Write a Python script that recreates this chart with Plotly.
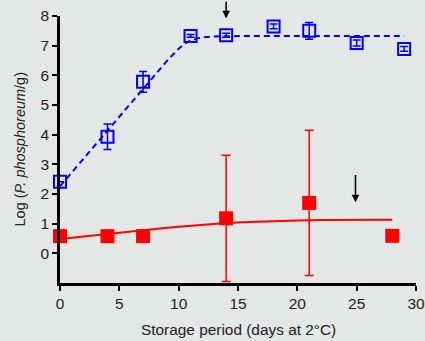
import plotly.graph_objects as go

# Observed data
blue_days = [0, 4, 7, 11, 14, 18, 21, 25, 29]
blue_vals = [2.41, 3.93, 5.78, 7.33, 7.35, 7.65, 7.5, 7.09, 6.89]
blue_err = [0.0, 0.43, 0.35, 0.05, 0.07, 0.08, 0.28, 0.1, 0.08]

red_days = [0, 4, 7, 14, 21, 28]
red_vals = [0.58, 0.58, 0.58, 1.18, 1.7, 0.59]
red_err = [0.0, 0.0, 0.0, 2.13, 2.45, 0.0]

# Fitted curves
blue_fit_days = [0, 1, 2, 3, 4, 5, 6, 7, 8, 9, 10, 10.5, 11, 11.5, 12, 12.5, 13, 14, 16, 18, 20, 22, 24, 26, 28, 29]
blue_fit_vals = [2.26, 2.73, 3.2, 3.67, 4.14, 4.61, 5.08, 5.55, 6.02, 6.48, 6.9, 7.07, 7.17, 7.24, 7.28, 7.3, 7.31, 7.32, 7.33, 7.33, 7.33, 7.33, 7.33, 7.33, 7.33, 7.33]

red_fit_days = [0, 2, 4, 6, 8, 10, 12, 14, 16, 18, 20, 22, 24, 26, 28]
red_fit_vals = [0.48, 0.57, 0.66, 0.74, 0.82, 0.9, 0.97, 1.02, 1.06, 1.09, 1.11, 1.12, 1.13, 1.13, 1.13]

# Arrows: (x, y_tail, y_tip)
arrows = [(14, 8.53, 7.92), (24.9, 2.69, 1.72)]

x_ticks = [0, 5, 10, 15, 20, 25, 30]
y_ticks = [0, 1, 2, 3, 4, 5, 6, 7, 8]

BG = "#E3E7E5"
BLUE = "#0000FF"
RED = "#FF0000"

fig = go.Figure()

fig.add_trace(go.Scatter(
    x=blue_fit_days, y=blue_fit_vals, mode="lines",
    line=dict(color=BLUE, width=2, dash="6px,4px"), cliponaxis=False,
    showlegend=False, hoverinfo="skip"))
fig.add_trace(go.Scatter(
    x=red_fit_days, y=red_fit_vals, mode="lines",
    line=dict(color=RED, width=2), cliponaxis=False,
    showlegend=False, hoverinfo="skip"))

fig.add_trace(go.Scatter(
    x=blue_days, y=blue_vals, mode="markers",
    marker=dict(symbol="square-open", size=12, color=BLUE, line=dict(width=2, color=BLUE)),
    error_y=dict(type="data", array=blue_err, visible=True, color=BLUE, thickness=1.5, width=4),
    cliponaxis=False, showlegend=False))
fig.add_trace(go.Scatter(
    x=red_days, y=red_vals, mode="markers",
    marker=dict(symbol="square", size=14, color=RED, line=dict(width=0)),
    error_y=dict(type="data", array=red_err, visible=True, color=RED, thickness=1.5, width=4.5),
    cliponaxis=False, showlegend=False))

for (ax_x, y_tail, y_tip) in arrows:
    fig.add_annotation(x=ax_x, y=y_tip, ax=ax_x, ay=y_tail, xref="x", yref="y",
                       axref="x", ayref="y", showarrow=True, arrowhead=2,
                       arrowsize=1, arrowwidth=1.5, arrowcolor="black", text="")

# Axis titles
fig.add_annotation(text="Storage period (days at 2°C)", xref="paper", yref="paper",
                   x=0.5, y=0, yshift=-46, yanchor="middle", showarrow=False,
                   font=dict(size=15.4, color="#222222"))
fig.add_annotation(text="Log (<i>P. phosphoreum</i>/g)", xref="paper", yref="paper",
                   x=0, xshift=-41, y=0.5, xanchor="center", yanchor="middle",
                   textangle=-90, showarrow=False,
                   font=dict(size=14.5, color="#222222"))

fig.update_layout(
    width=425, height=341,
    margin=dict(l=60, r=9, t=16, b=58),
    paper_bgcolor=BG, plot_bgcolor=BG,
    font=dict(family="Liberation Sans, Arial, sans-serif", color="#222222"),
    xaxis=dict(range=[0, 30], tickvals=x_ticks, ticks="outside", ticklen=5, tickwidth=2,
               showline=True, linewidth=2.5, linecolor="black", tickcolor="black",
               showgrid=False, zeroline=False, tickfont=dict(size=15.5), automargin=False),
    yaxis=dict(range=[-1, 8], tickvals=y_ticks, ticks="outside", ticklen=5, tickwidth=2,
               showline=True, linewidth=2.5, linecolor="black", tickcolor="black",
               showgrid=False, zeroline=False, tickfont=dict(size=15.5), automargin=False),
)

fig.write_html("out.html")
